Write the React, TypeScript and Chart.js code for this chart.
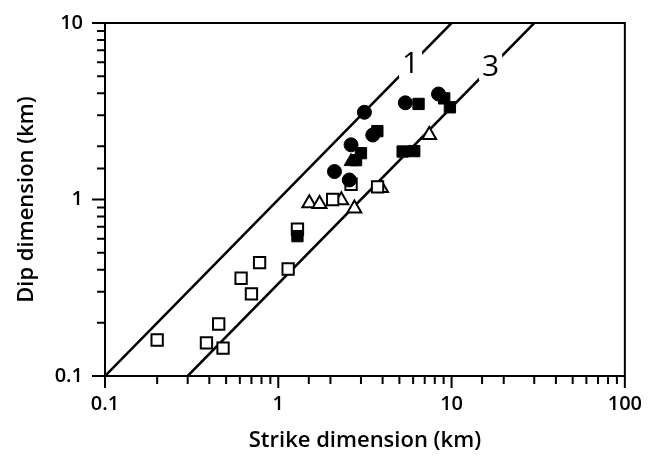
import React, { useEffect, useRef } from "react";
import { Chart, registerables } from "chart.js";
Chart.register(...registerables);

// Axis ranges and tick labels
const xRange = [0.1, 100];
const yRange = [0.1, 10];
const xTickLabels = ["0.1", "1", "10", "100"];
const yTickLabels = ["0.1", "1", "10"];
const xTitle = "Strike dimension (km)";
const yTitle = "Dip dimension (km)";

// Reference lines: dip = strike / ratio
const ratios = [1, 3];
const ratioLabels = ["1", "3"];
const ratioLabelDip = [5.8, 5.6];

// Data series (strike km, dip km)
const openSquareStrike = [0.2, 0.385, 0.48, 0.453, 0.61, 0.7, 0.78, 1.14, 1.29, 2.06, 2.63, 3.74];
const openSquareDip = [0.16, 0.154, 0.144, 0.197, 0.358, 0.292, 0.439, 0.404, 0.68, 1.0, 1.22, 1.18];

const filledCircleStrike = [2.11, 2.57, 2.63, 3.14, 3.51, 5.41, 8.41];
const filledCircleDip = [1.44, 1.29, 2.04, 3.12, 2.32, 3.53, 3.96];

const filledSquareStrike = [1.29, 3.0, 2.81, 3.73, 6.45, 9.07, 9.78, 5.22, 6.09];
const filledSquareDip = [0.62, 1.83, 1.67, 2.44, 3.48, 3.74, 3.33, 1.87, 1.88];

const filledTriangleStrike = [2.63];
const filledTriangleDip = [1.64];

const openTriangleStrike = [1.51, 1.73, 2.31, 2.75, 3.92, 7.43];
const openTriangleDip = [0.952, 0.943, 0.99, 0.89, 1.16, 2.32];

const FONT = "'Open Sans', 'Noto Sans', 'DejaVu Sans', sans-serif";

export default function App() {
  const ref = useRef<HTMLCanvasElement>(null);

  useEffect(() => {
    document.body.style.margin = "0";
    const canvas = ref.current;
    if (!canvas) return;

    const pts = (xs: number[], ys: number[]) => xs.map((x, i) => ({ x, y: ys[i] }));
    const isPow10 = (v: number) => Math.abs(Math.log10(v) - Math.round(Math.log10(v))) < 1e-6;
    const labelFor = (v: number, labels: string[]) => {
      if (!isPow10(v)) return "";
      const found = labels.find((l) => Math.abs(parseFloat(l) - v) < 1e-9);
      return found ?? "";
    };

    const lineSets = ratios.map((r) => ({
      type: "line" as const,
      data: [
        { x: yRange[0] * r, y: yRange[0] },
        { x: yRange[1] * r, y: yRange[1] },
      ],
      borderColor: "#000",
      borderWidth: 2.5,
      pointRadius: 0,
      showLine: true,
      fill: false,
      order: 10,
    }));

    const framePlugin = {
      id: "frameTicks",
      afterDatasetsDraw(chart: any) {
        const { ctx, scales } = chart;
        ctx.save();
        ctx.font = `400 30px ${FONT}`;
        ctx.textAlign = "center";
        ctx.textBaseline = "middle";
        ratios.forEach((r, i) => {
          const dip = ratioLabelDip[i];
          const px = scales.x.getPixelForValue(dip * r);
          const py = scales.y.getPixelForValue(dip);
          const w = ctx.measureText(ratioLabels[i]).width + 6;
          ctx.fillStyle = "#fff";
          ctx.fillRect(px - w / 2, py - 13, w, 26);
          ctx.fillStyle = "#000";
          ctx.fillText(ratioLabels[i], px, py);
        });
        ctx.restore();
      },
      afterDraw(chart: any) {
        const { ctx, chartArea: a, scales } = chart;
        ctx.save();
        ctx.strokeStyle = "#000";
        ctx.lineWidth = 2;
        ctx.strokeRect(a.left, a.top, a.right - a.left, a.bottom - a.top);
        ctx.beginPath();
        scales.x.ticks.forEach((t: any) => {
          const v = t.value;
          const px = scales.x.getPixelForValue(v);
          ctx.moveTo(px, a.bottom);
          ctx.lineTo(px, a.bottom + (isPow10(v) ? 12 : 8));
        });
        scales.y.ticks.forEach((t: any) => {
          const v = t.value;
          const py = scales.y.getPixelForValue(v);
          ctx.moveTo(a.left, py);
          ctx.lineTo(a.left - (isPow10(v) ? 13 : 8), py);
        });
        ctx.stroke();
        ctx.restore();
      },
    };

    const chart = new Chart(canvas, {
      type: "scatter",
      data: {
        datasets: [
          {
            data: pts(openSquareStrike, openSquareDip),
            pointStyle: "rect",
            pointRadius: 8,
            backgroundColor: "#fff",
            borderColor: "#000",
            borderWidth: 2,
            order: 1,
          },
          {
            data: pts(openTriangleStrike, openTriangleDip),
            pointStyle: "triangle",
            pointRadius: 8,
            backgroundColor: "#fff",
            borderColor: "#000",
            borderWidth: 2,
            order: 1,
          },
          {
            data: pts(filledSquareStrike, filledSquareDip),
            pointStyle: "rect",
            pointRadius: 8,
            backgroundColor: "#000",
            borderColor: "#000",
            borderWidth: 1,
            order: 0,
          },
          {
            data: pts(filledTriangleStrike, filledTriangleDip),
            pointStyle: "triangle",
            pointRadius: 8,
            backgroundColor: "#000",
            borderColor: "#000",
            borderWidth: 1,
            order: 0,
          },
          {
            data: pts(filledCircleStrike, filledCircleDip),
            pointStyle: "circle",
            pointRadius: 7,
            backgroundColor: "#000",
            borderColor: "#000",
            borderWidth: 1,
            order: 0,
          },
          ...lineSets,
        ] as any,
      },
      options: {
        animation: false,
        responsive: true,
        maintainAspectRatio: false,
        layout: { padding: { left: 0, right: 32, top: 23, bottom: 0 } },
        plugins: {
          legend: { display: false },
          tooltip: { enabled: false },
        },
        scales: {
          x: {
            type: "logarithmic",
            min: xRange[0],
            max: xRange[1],
            grid: { display: false, drawTicks: false },
            border: { display: false },
            afterFit: (s: any) => {
              s.height = 84;
            },
            ticks: {
              autoSkip: false,
              maxRotation: 0,
              padding: 16,
              color: "#000",
              font: { family: FONT, size: 20, weight: "600" },
              callback: (v: any) => labelFor(Number(v), xTickLabels),
            },
            title: {
              display: true,
              text: xTitle,
              color: "#000",
              font: { family: FONT, size: 22, weight: "600" },
              padding: { top: 0, bottom: 6 },
            },
          },
          y: {
            type: "logarithmic",
            min: yRange[0],
            max: yRange[1],
            grid: { display: false, drawTicks: true, tickLength: 20 },
            border: { display: false },
            afterFit: (s: any) => {
              s.width = 105;
            },
            ticks: {
              autoSkip: false,
              padding: 2,
              color: "#000",
              font: { family: FONT, size: 20, weight: "600" },
              callback: (v: any) => labelFor(Number(v), yTickLabels),
            },
            title: {
              display: true,
              text: yTitle,
              color: "#000",
              font: { family: FONT, size: 22, weight: "600" },
              padding: { top: 14, bottom: 0 },
            },
          },
        },
      } as any,
      plugins: [framePlugin],
    });

    return () => chart.destroy();
  }, []);

  return (
    <div style={{ width: 658, height: 460, position: "relative", background: "#fff" }}>
      <canvas ref={ref} />
    </div>
  );
}
